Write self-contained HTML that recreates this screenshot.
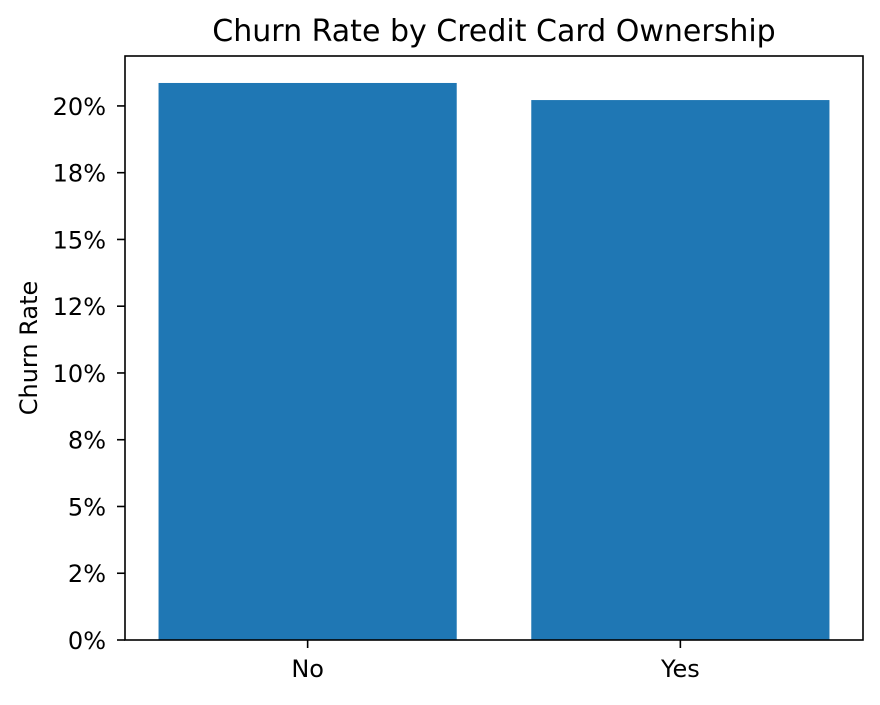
<!DOCTYPE html>
<html><head><meta charset="utf-8"><style>
body{margin:0;background:#fff;}
svg text{font-family:"DejaVu Sans","Liberation Sans",sans-serif;fill:#000;}
</style></head><body>
<svg id="chart" width="880" height="700" xmlns="http://www.w3.org/2000/svg">
<rect width="880" height="700" fill="#fff"/>
<text x="494" y="41" font-size="30" text-anchor="middle">Churn Rate by Credit Card Ownership</text>
<text transform="translate(37,348) rotate(-90)" font-size="24" text-anchor="middle">Churn Rate</text>
<g id="bars"></g><g id="yticks"></g><g id="xticks"></g>
<rect x="125" y="56" width="738" height="584" fill="none" stroke="#000" stroke-width="1.6"/>
</svg>
<script>
const categories = ["No", "Yes"];
const churnRates = [20.86, 20.22];
const tickValues = [0, 2.5, 5, 7.5, 10, 12.5, 15, 17.5, 20];
const tickLabels = ["0%", "2%", "5%", "8%", "10%", "12%", "15%", "18%", "20%"];

const NS = "http://www.w3.org/2000/svg";
const plot = {left:125, right:863, top:56, bottom:640};
const yMax = 21.87;
function yScale(v){ return plot.bottom - v/yMax*(plot.bottom-plot.top); }
const xMin = -0.49, xMax = categories.length - 1 + 0.49;
function xCenter(i){ return plot.left + (i - xMin)/(xMax - xMin)*(plot.right-plot.left); }
const barW = 0.8*(plot.right-plot.left)/(xMax - xMin);

function mk(tag, attrs, parent){
  const el = document.createElementNS(NS, tag);
  for (const k in attrs) el.setAttribute(k, attrs[k]);
  parent.appendChild(el); return el;
}
const bars = document.getElementById('bars');
const yt = document.getElementById('yticks');
const xt = document.getElementById('xticks');

churnRates.forEach((v,i)=>{
  const r = mk('rect',{x:xCenter(i)-barW/2, y:yScale(v), width:barW, height:plot.bottom-yScale(v), fill:'#1f77b4'}, bars);
  
  
  const t = mk('line',{x1:xCenter(i), x2:xCenter(i), y1:plot.bottom, y2:plot.bottom+8, stroke:'#000','stroke-width':1.6}, xt);
  
  
  const l = mk('text',{x:xCenter(i), y:plot.bottom+37, 'font-size':24, 'text-anchor':'middle'}, xt);
  l.textContent = categories[i];
  
  
});
tickValues.forEach((v,i)=>{
  const y = yScale(v);
  const t = mk('line',{x1:plot.left-8, x2:plot.left, y1:y, y2:y, stroke:'#000','stroke-width':1.6}, yt);
  
  
  const l = mk('text',{x:plot.left-19, y:y+9, 'font-size':24, 'text-anchor':'end'}, yt);
  l.textContent = tickLabels[i];
  
  
});
</script>
</body></html>
